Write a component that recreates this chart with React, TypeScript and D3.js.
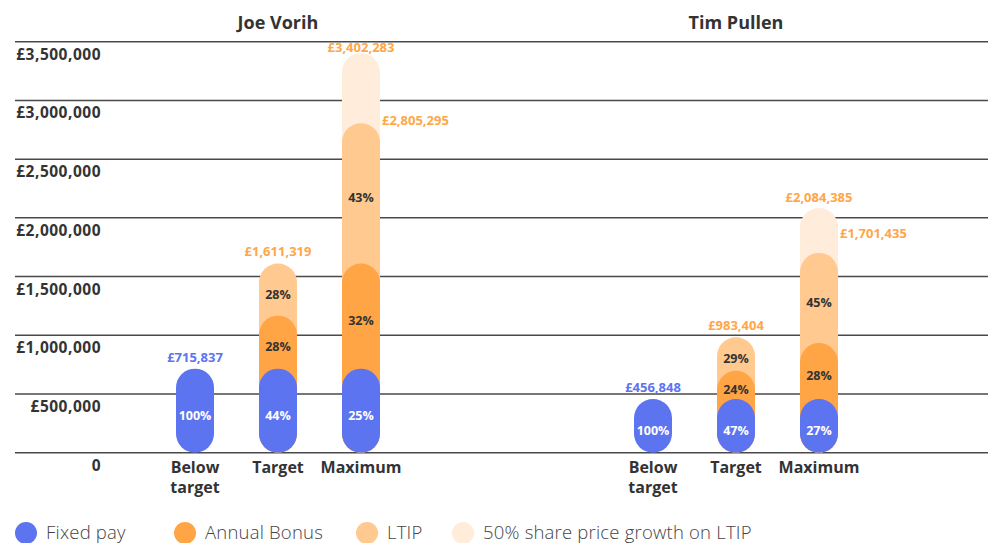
import React from 'react';
import * as d3 from 'd3';

const people = ['Joe Vorih', 'Tim Pullen'];
const categories = ['Below target', 'Target', 'Maximum'];
const seriesNames = ['Fixed pay', 'Annual Bonus', 'LTIP', '50% share price growth on LTIP'];
const seriesColors = ['#5c74f0', '#ffa546', '#ffc98f', '#ffecda'];

const joeFixed = [715837, 715837, 715837];
const joeBonus = [0, 451169, 895000];
const joeLtip = [0, 444313, 1194458];
const joeGrowth = [0, 0, 596988];
const joeFixedPct = ['100%', '44%', '25%'];
const joeBonusPct = ['', '28%', '32%'];
const joeLtipPct = ['', '28%', '43%'];

const timFixed = [456848, 456848, 456848];
const timBonus = [0, 240000, 476402];
const timLtip = [0, 286556, 768185];
const timGrowth = [0, 0, 382950];
const timFixedPct = ['100%', '47%', '27%'];
const timBonusPct = ['', '24%', '28%'];
const timLtipPct = ['', '29%', '45%'];

const yTicks = [0, 500000, 1000000, 1500000, 2000000, 2500000, 3000000, 3500000];

const W = 988;
const H = 543;
const FONT = "'Open Sans', 'DejaVu Sans', sans-serif";
const DARK = '#333333';
const ORANGE_TXT = '#ffa646';

const personData = [
  { fixed: joeFixed, bonus: joeBonus, ltip: joeLtip, growth: joeGrowth, pct: [joeFixedPct, joeBonusPct, joeLtipPct] },
  { fixed: timFixed, bonus: timBonus, ltip: timLtip, growth: timGrowth, pct: [timFixedPct, timBonusPct, timLtipPct] },
];

// layout-only tweaks for the side total label of the "Maximum" bar
const sideLabelDy = [-3, -19];
const legendX = [26, 185, 367, 463];

export default function App() {
  const y = d3.scaleLinear().domain([0, 3500000]).range([452.7, 41.7]);
  const xGroup = d3.scaleBand<string>().domain(people).range([49, 965]);
  const xCat = d3.scalePoint<string>().domain(categories).range([-83, 83]);
  const barW = 38;
  const r = barW / 2;
  const fmt = d3.format(',');
  const money = (v: number) => '£' + fmt(Math.round(v));

  const groups = people.map((p, pi) => {
    const d = personData[pi];
    const gx = (xGroup(p) as number) + xGroup.bandwidth() / 2;
    return (
      <g key={p}>
        <text x={gx} y={29} textAnchor="middle" fontFamily={FONT} fontWeight={700} fontSize={18} fill={DARK}>
          {p}
        </text>
        {categories.map((c, ci) => {
          const cx = gx + (xCat(c) as number);
          const vals = [d.fixed[ci], d.bonus[ci], d.ltip[ci], d.growth[ci]];
          const cums = d3.cumsum(vals);
          const layers = [] as JSX.Element[];
          for (let li = 3; li >= 0; li--) {
            if (vals[li] <= 0) continue;
            const top = y(cums[li]);
            const bottom = y(0);
            layers.push(
              <rect key={'r' + li} x={cx - r} y={top} width={barW} height={bottom - top} rx={r} ry={r} fill={seriesColors[li]} />
            );
          }
          const pctLabels = [0, 1, 2].map((li) => {
            if (vals[li] <= 0) return null;
            const top = y(cums[li]);
            const bot = y(li === 0 ? 0 : cums[li - 1]);
            const mid = (top + bot) / 2;
            return (
              <text key={'p' + li} x={cx} y={mid + 9} textAnchor="middle" fontFamily={FONT} fontWeight={700} fontSize={12.5}
                fill={li === 0 ? '#ffffff' : DARK}>
                {d.pct[li][ci]}
              </text>
            );
          });
          const total3 = cums[2];
          const total4 = cums[3];
          const onlyFixed = vals[1] <= 0 && vals[2] <= 0;
          const labels = [] as JSX.Element[];
          if (vals[3] > 0) {
            labels.push(
              <text key="tt" x={cx} y={Math.max(y(total4) - 6, 52)} textAnchor="middle" fontFamily={FONT} fontWeight={700} fontSize={13} fill={ORANGE_TXT}>
                {money(total4)}
              </text>
            );
            labels.push(
              <text key="ts" x={cx + r + 2} y={y(total3) + sideLabelDy[pi] + 4.5} textAnchor="start" fontFamily={FONT} fontWeight={700} fontSize={13} fill={ORANGE_TXT}>
                {money(total3)}
              </text>
            );
          } else {
            labels.push(
              <text key="tt" x={cx} y={y(total3) - 7} textAnchor="middle" fontFamily={FONT} fontWeight={700} fontSize={13}
                fill={onlyFixed ? seriesColors[0] : ORANGE_TXT}>
                {money(total3)}
              </text>
            );
          }
          const words = c.split(' ');
          return (
            <g key={c}>
              {layers}
              {pctLabels}
              {labels}
              {words.map((w, wi) => (
                <text key={w} x={cx} y={473 + wi * 20} textAnchor="middle" fontFamily={FONT} fontWeight={700} fontSize={16} fill={DARK}>
                  {w}
                </text>
              ))}
            </g>
          );
        })}
      </g>
    );
  });

  return (
    <svg width={W} height={H} style={{ position: 'absolute', left: 0, top: 0, background: '#ffffff' }}>
      <rect x={0} y={0} width={W} height={H} fill="#ffffff" />
      {yTicks.map((t) => (
        <g key={t}>
          <line x1={15} x2={W} y1={y(t)} y2={y(t)} stroke="#4a4a4a" strokeWidth={1.5} />
          <text x={101} y={y(t) + 18} textAnchor="end" fontFamily={FONT} fontWeight={700} fontSize={15.5} letterSpacing={0.5} fill={DARK}>
            {t === 0 ? '0' : money(t)}
          </text>
        </g>
      ))}
      {groups}
      {seriesNames.map((s, i) => (
        <g key={s}>
          <circle cx={legendX[i]} cy={533} r={11} fill={seriesColors[i]} />
          <text x={legendX[i] + 20} y={539} fontFamily={FONT} fontWeight={300} fontSize={18.5} letterSpacing={0.2} fill="#444444">
            {s}
          </text>
        </g>
      ))}
    </svg>
  );
}
